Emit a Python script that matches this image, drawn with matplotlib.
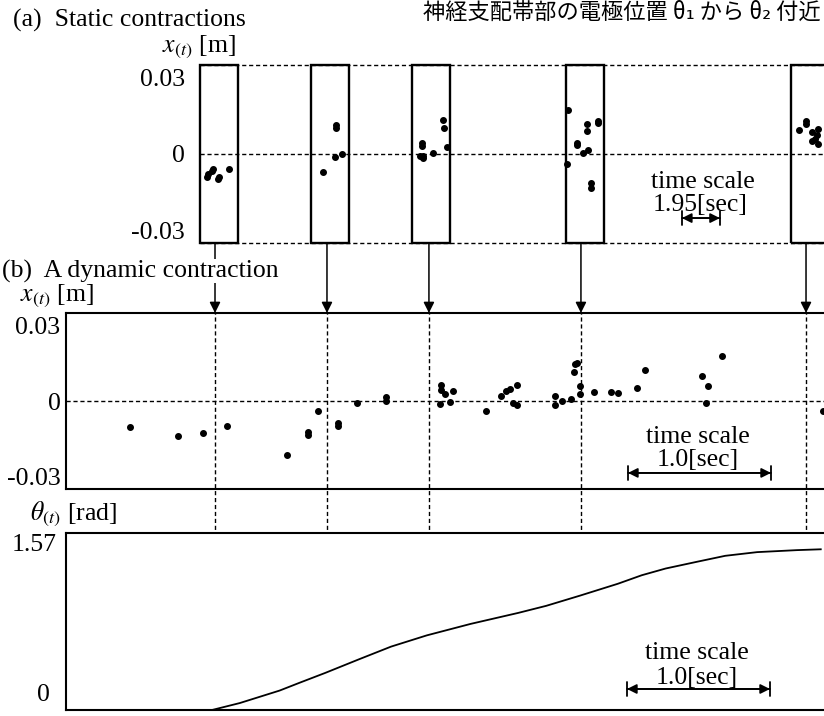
import matplotlib
matplotlib.use('Agg')
import matplotlib.pyplot as plt
from matplotlib.patches import Rectangle
from matplotlib.transforms import blended_transform_factory as blend

plt.rcParams['font.family'] = ['Liberation Serif', 'DejaVu Serif']
plt.rcParams['mathtext.fontset'] = 'stix'

# ---------------- data ----------------
# (a) static contractions: five 1.95 s windows, x(t) in m
box_start = [0.0, 5.70, 10.88, 18.78, 30.32]   # window start on static time axis [s]
box_len = 1.95
static_t = [
    [0.36, 0.41, 0.62, 0.67, 0.92, 0.97, 1.49],
    [0.62, 1.28, 1.28, 1.23, 1.59],
    [0.51, 0.51, 0.41, 0.56, 0.56, 1.08, 1.59, 1.64, 1.80],
    [0.10, 0.05, 0.56, 0.56, 0.87, 1.13, 1.08, 1.08, 1.64, 1.64, 1.28, 1.28],
    [0.41, 0.77, 0.77, 1.08, 1.08, 1.33, 1.39, 1.39, 1.23],
]
static_x = [
    [-0.0091, -0.0079, -0.0067, -0.0059, -0.0099, -0.0091, -0.0059],
    [-0.0071, 0.0115, 0.0103, -0.0012, 0.0000],
    [0.0044, 0.0032, -0.0008, -0.0016, -0.0008, 0.0004, 0.0134, 0.0103, 0.0028],
    [0.0174, -0.0040, 0.0044, 0.0036, 0.0004, 0.0016, 0.0119, 0.0091, 0.0131, 0.0123, -0.0115, -0.0134],
    [0.0095, 0.0131, 0.0119, 0.0087, 0.0051, 0.0075, 0.0099, 0.0040, 0.0059],
]

# (b) dynamic contraction
dyn_t = [0.448, 0.783, 0.958, 1.126, 1.545, 1.692, 1.692, 1.762, 1.902, 1.902, 2.035,
         2.238, 2.238, 2.615, 2.622, 2.622, 2.650, 2.685, 2.706, 2.937, 3.042, 3.077,
         3.105, 3.126, 3.154, 3.154, 3.420, 3.420, 3.469, 3.531, 3.552, 3.559, 3.573,
         3.594, 3.594, 3.692, 3.811, 3.860, 3.993, 4.049, 4.448, 4.476, 4.490, 4.587, 5.294]
dyn_x = [-0.0102, -0.0140, -0.0128, -0.0099, -0.0213, -0.0125, -0.0137, -0.0041, -0.0088, -0.0100, -0.0008,
         0.0016, 0.0000, -0.0010, 0.0062, 0.0042, 0.0026, -0.0002, 0.0038, -0.0041, 0.0019, 0.0039,
         0.0047, -0.0008, 0.0064, -0.0016, 0.0021, -0.0015, 0.0001, 0.0009, 0.0117, 0.0149, 0.0153,
         0.0061, 0.0029, 0.0034, 0.0034, 0.0030, 0.0051, 0.0122, 0.0100, -0.0007, 0.0060, 0.0180, -0.0040]

theta_t = [0.0, 1.021, 1.215, 1.494, 1.633, 1.813, 2.050, 2.273, 2.523, 2.829, 3.163, 3.358,
           3.594, 3.859, 4.026, 4.193, 4.415, 4.610, 4.833, 5.111, 5.278]
theta_v = [0.0, 0.0, 0.066, 0.185, 0.259, 0.353, 0.483, 0.603, 0.710, 0.819, 0.924, 0.991,
           1.088, 1.201, 1.282, 1.346, 1.411, 1.467, 1.502, 1.521, 1.529]

mark_t = [1.042, 1.825, 2.538, 3.601, 5.175]   # instants matching static windows [s]

x_ticks = [-0.03, 0, 0.03]
x_ticklabels = ['-0.03', '0', '0.03']

# ---------------- layout ----------------
W, H = 824, 716
fig = plt.figure(figsize=(W / 100, H / 100), dpi=100)
FS = 18.5


def rect(l, t, r, b):
    return [l / W, 1 - b / H, (r - l) / W, (b - t) / H]


def ftext(x, y, s, **kw):
    return fig.text(x / W, 1 - y / H, s, **kw)


dash = (0, (3, 2))

# panel (a)
axa = fig.add_axes(rect(200, 65, 920, 243))
axa.set_xlim(0, (920 - 200) / 19.487)
axa.set_ylim(-0.035, 0.035)
for sp in axa.spines.values():
    sp.set_visible(False)
axa.set_xticks([])
axa.set_yticks(x_ticks)
axa.set_yticklabels(x_ticklabels)
axa.tick_params(axis='y', length=0, pad=11, labelsize=FS)
for yv in (-0.035, 0, 0.035):
    axa.axhline(yv, color='k', lw=1.0, ls=dash, clip_on=False)
for s, tt, xx in zip(box_start, static_t, static_x):
    axa.add_patch(Rectangle((s, -0.035), box_len, 0.07, fill=False, ec='k', lw=1.7, clip_on=False, zorder=3))
    axa.plot([s + v for v in tt], xx, 'o', color='k', ms=4, zorder=4)

# panel (b) x(t)
axb = fig.add_axes(rect(66, 313, 900, 489))
axb.set_xlim(0, (900 - 66) / 143)
axb.set_ylim(-0.035, 0.035)
axb.set_xticks([])
axb.set_yticks(x_ticks)
axb.set_yticklabels(x_ticklabels)
axb.tick_params(axis='y', length=0, pad=4, labelsize=FS)
for sp in axb.spines.values():
    sp.set_linewidth(1.5)
axb.axhline(0, color='k', lw=1.0, ls=dash)
axb.plot(dyn_t, dyn_x, 'o', color='k', ms=4, zorder=4)

# panel (b) theta(t)
axc = fig.add_axes(rect(66, 533, 900, 710))
axc.set_xlim(0, (900 - 66) / 143)
axc.set_ylim(0, 1.684)
axc.set_xticks([])
axc.set_yticks([])
for sp in axc.spines.values():
    sp.set_linewidth(1.5)
axc.plot(theta_t, theta_v, color='k', lw=1.3, zorder=4)
bl = blend(axc.transAxes, axc.transData)
axc.annotate('1.57', xy=(0, 1.57), xycoords=bl, xytext=(-6.5, 0), textcoords='offset points',
             ha='right', va='center', fontsize=FS, annotation_clip=False)
axc.annotate('0', xy=(0, 0), xycoords=bl, xytext=(-11.5, 3), textcoords='offset points',
             ha='right', va='bottom', fontsize=FS, annotation_clip=False)

# dashed verticals and arrows
ext = (710 - 489) / (489 - 313)
for t in mark_t:
    axb.axvline(t, ymin=-ext, ymax=1, color='k', lw=1.0, ls=dash, clip_on=False, zorder=2)
    axb.annotate('', xy=(t, 0.035), xycoords='data',
                 xytext=(t, 0), textcoords=blend(axb.transData, axa.transAxes),
                 arrowprops=dict(arrowstyle='-|>', color='k', lw=1.1, mutation_scale=16,
                                 shrinkA=0, shrinkB=0),
                 annotation_clip=False)


def scale_bar(ax, x0, x1, y):
    ax.annotate('', xy=(x1, y), xytext=(x0, y),
                arrowprops=dict(arrowstyle='<|-|>', color='k', lw=1.3, mutation_scale=14,
                                shrinkA=0, shrinkB=0), annotation_clip=False)
    ax.annotate('', xy=(x1, y), xytext=(x0, y),
                arrowprops=dict(arrowstyle='|-|,widthA=0.35,widthB=0.35', color='k', lw=1.3,
                                mutation_scale=14, shrinkA=0, shrinkB=0), annotation_clip=False)


scale_bar(axa, 24.73, 24.73 + box_len, -0.0252)
scale_bar(axb, 3.93, 4.93, -0.0286)
scale_bar(axc, 3.923, 4.923, 0.20)

# texts
ftext(13, 20, '(a)  Static contractions', fontsize=FS, ha='left', va='center')
ftext(162, 47, '$x_{(t)}$ [m]', fontsize=FS, ha='left', va='center')
ftext(2, 271, '(b)  A dynamic contraction', fontsize=FS, ha='left', va='center',
      bbox=dict(fc='white', ec='none', pad=0.5))
ftext(20, 296, '$x_{(t)}$ [m]', fontsize=FS, ha='left', va='center')
ftext(30, 514, r'$\theta_{(t)}$ [rad]', fontsize=FS, ha='left', va='center')

ftext(703, 182, 'time scale', fontsize=FS, ha='center', va='center')
ftext(700, 205, '1.95[sec]', fontsize=FS, ha='center', va='center')
ftext(698, 437, 'time scale', fontsize=FS, ha='center', va='center')
ftext(698, 460, '1.0[sec]', fontsize=FS, ha='center', va='center')
ftext(697, 653, 'time scale', fontsize=FS, ha='center', va='center')
ftext(697, 678, '1.0[sec]', fontsize=FS, ha='center', va='center')

ftext(423, 1, '神経支配帯部の電極位置 θ₁ から θ₂ 付近', fontsize=16, ha='left', va='top',
      family=['Noto Sans CJK JP', 'DejaVu Sans'])

fig.savefig('out.png', dpi=100)
